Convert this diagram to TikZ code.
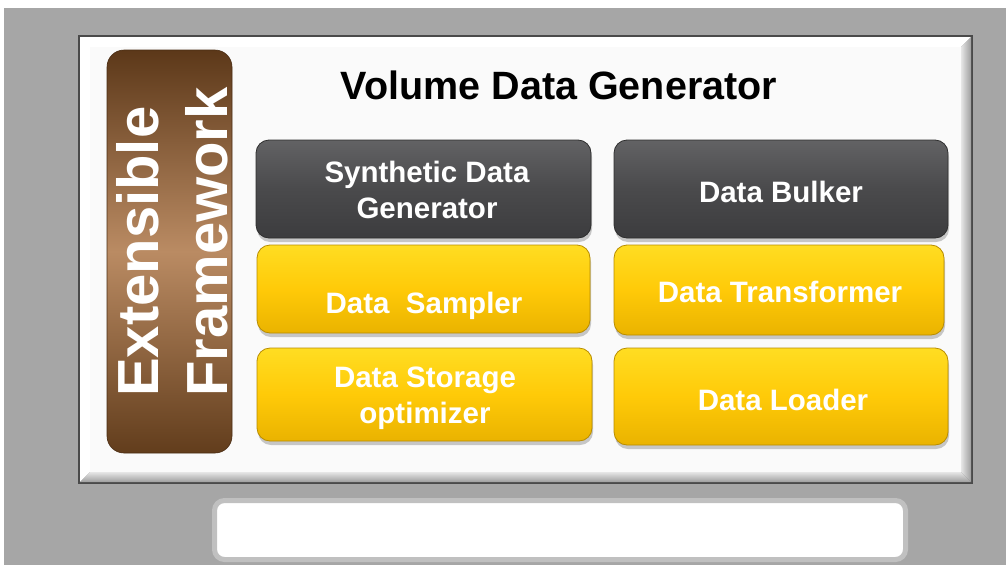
\documentclass[tikz,border=0pt]{standalone}
\usepackage{fontspec}
\setmainfont{Liberation Sans}
\usetikzlibrary{shadows}

\definecolor{bggray}{HTML}{A6A6A6}
\definecolor{framedark}{HTML}{4A4A4A}
\definecolor{panelface}{HTML}{FAFAFA}
\definecolor{bevellight}{HTML}{E6E6E6}
\definecolor{beveldark}{HTML}{9E9E9E}
\definecolor{browndark}{HTML}{5C3819}
\definecolor{brownlight}{HTML}{BA8B63}
\definecolor{brownbottom}{HTML}{623D1C}
\definecolor{darktop}{HTML}{626264}
\definecolor{darkmid}{HTML}{4A4A4C}
\definecolor{darkbot}{HTML}{3C3C3E}
\definecolor{darkedge}{HTML}{2E2E2E}
\definecolor{goldtop}{HTML}{FFDD22}
\definecolor{goldmid}{HTML}{FFCA08}
\definecolor{goldbot}{HTML}{EAB300}
\definecolor{goldedge}{HTML}{B88C00}
\definecolor{captionedge}{HTML}{C0C0C0}

\tikzset{
  boxshadow/.style={drop shadow={opacity=0.35, shadow xshift=1pt, shadow yshift=-4pt, fill=black!60}},
  darkbox/.style={rectangle, rounded corners=13pt, draw=darkedge, line width=0.8pt,
    top color=darktop, bottom color=darkbot, middle color=darkmid, boxshadow},
  goldbox/.style={rectangle, rounded corners=13pt, draw=goldedge, line width=0.8pt,
    top color=goldtop, bottom color=goldbot, middle color=goldmid, boxshadow},
  boxtext/.style={text=white, font=\bfseries\fontsize{29.5}{36}\selectfont, align=center, inner sep=0pt},
  titletext/.style={font=\bfseries\fontsize{39.5}{44}\selectfont, inner sep=0pt, anchor=base},
  sidetext/.style={text=white, font=\bfseries\fontsize{58}{66}\selectfont, inner sep=0pt,
    rotate=90, anchor=base west},
}

\begin{document}
\begin{tikzpicture}[x=1pt, y=-1pt]
  \useasboundingbox (0,0) rectangle (1006,565);
  \fill[white] (0,0) rectangle (1006,565);
  \fill[bggray] (4,8) rectangle (1006,565);

  % bevelled panel
  \fill[framedark] (78,35) rectangle (973,484);
  \fill[white] (80,37) -- (971,37) -- (961,47) -- (90,47) -- (90,472) -- (80,482) -- cycle;
  \shade[left color=bevellight, right color=beveldark]
    (971,37) -- (971,482) -- (961,472) -- (961,47) -- cycle;
  \shade[top color=bevellight, bottom color=beveldark]
    (80,482) -- (971,482) -- (961,472) -- (90,472) -- cycle;
  \fill[panelface] (90,47) rectangle (961,472);

  % side bar
  \node[rectangle, rounded corners=17pt, minimum width=125pt, minimum height=403pt,
        top color=browndark, bottom color=brownbottom, middle color=brownlight,
        draw=browndark!80!black, line width=0.6pt, inner sep=0pt] (side) at (169.5,251.5) {};
  \node[sidetext] (ext) at (158,397) {Extensible};
  \node[sidetext] (frm) at (227,397) {Framework};

  % title
  \node[titletext, text=black] (title) at (559,99) {Volume Data Generator};

  % component boxes
  \node[darkbox, minimum width=335pt, minimum height=98pt] (sdg) at (423.5,189) {};
  \node[darkbox, minimum width=334pt, minimum height=98pt] (bulk) at (781,189) {};
  \node[goldbox, minimum width=333pt, minimum height=88pt] (samp) at (423.5,289) {};
  \node[goldbox, minimum width=330pt, minimum height=90pt] (trans) at (779,290) {};
  \node[goldbox, minimum width=335pt, minimum height=93pt] (stor) at (424.5,394.5) {};
  \node[goldbox, minimum width=334pt, minimum height=97pt] (load) at (781,396.5) {};

  \node[boxtext] (sdg-t) at (427,190) {Synthetic Data\\Generator};
  \node[boxtext, anchor=base] (bulk-t) at (781,202) {Data Bulker};
  \node[boxtext, anchor=base] (samp-t) at (424,313) {Data\ \ Sampler};
  \node[boxtext, anchor=base] (trans-t) at (780,302) {Data Transformer};
  \node[boxtext] (stor-t) at (425,398.5) {Data Storage\\optimizer};
  \node[boxtext, anchor=base] (load-t) at (783,410) {Data Loader};

  % empty caption field
  \node[rectangle, rounded corners=10pt, draw=captionedge, line width=5pt, fill=white,
        minimum width=691pt, minimum height=59pt] (caption) at (560,530) {};
\end{tikzpicture}
\end{document}
